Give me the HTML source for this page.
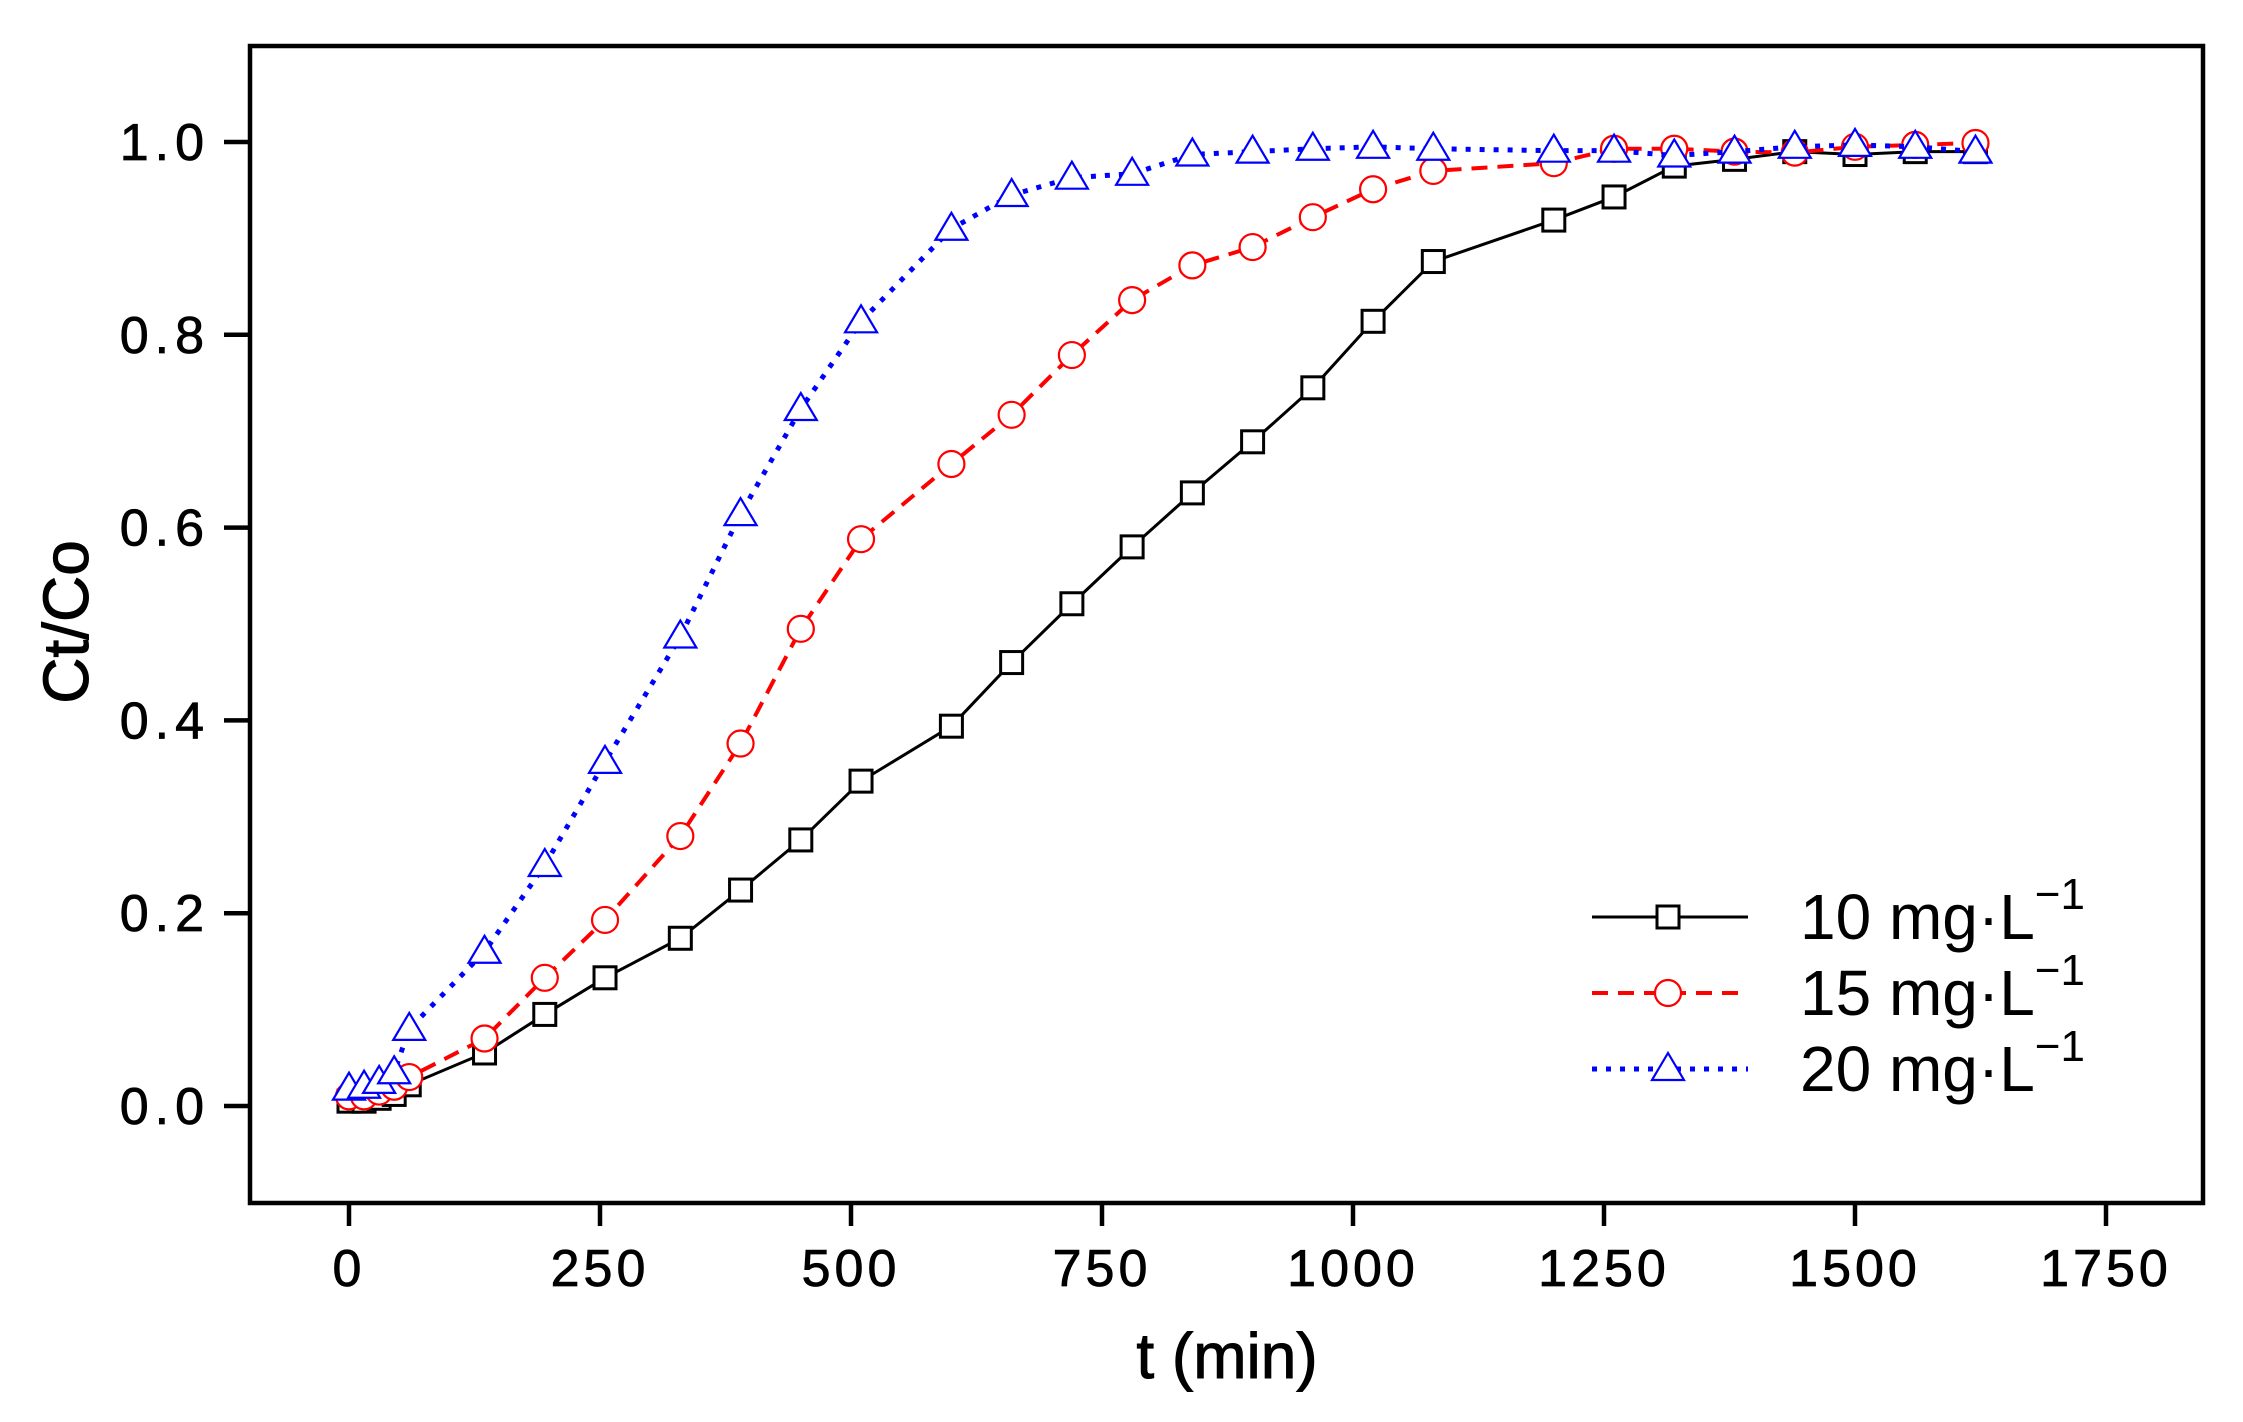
<!DOCTYPE html>
<html><head><meta charset="utf-8"><style>
html,body{margin:0;padding:0;background:#fff;}
svg text{font-family:"Liberation Sans",Arial,sans-serif;}
</style></head><body>
<svg id="chart" width="2243" height="1417" viewBox="0 0 2243 1417" xmlns="http://www.w3.org/2000/svg">
<rect x="250" y="46" width="1953" height="1157" fill="none" stroke="#000" stroke-width="4.5"/>
<g id="axes"></g>
<g id="series"></g>
<g id="legend"></g>
<text x="1227" y="1378" font-size="64" text-anchor="middle" stroke="#000" stroke-width="1">t (min)</text>
<text x="0" y="0" font-size="64" text-anchor="middle" stroke="#000" stroke-width="1" transform="translate(88,622) rotate(-90)">Ct/Co</text>
</svg>
<script>
const times = [0,15,30,45,60,135,195,255,330,390,450,510,600,660,720,780,840,900,960,1020,1080,1200,1260,1320,1380,1440,1500,1560,1620];
const s10 = [0.005,0.005,0.008,0.012,0.022,0.055,0.095,0.133,0.174,0.224,0.276,0.337,0.394,0.46,0.521,0.58,0.636,0.689,0.745,0.814,0.876,0.919,0.943,0.975,0.982,0.99,0.987,0.99,0.99];
const s15 = [0.01,0.01,0.015,0.02,0.03,0.07,0.133,0.193,0.28,0.376,0.495,0.588,0.666,0.717,0.779,0.836,0.872,0.891,0.922,0.951,0.97,0.978,0.993,0.993,0.99,0.989,0.995,0.997,0.999];
const s20 = [0.018,0.02,0.025,0.035,0.08,0.16,0.25,0.357,0.487,0.614,0.723,0.814,0.91,0.945,0.963,0.967,0.987,0.99,0.993,0.995,0.993,0.991,0.991,0.986,0.99,0.995,0.997,0.995,0.99];
const xTicks = [0,250,500,750,1000,1250,1500,1750];
const yTicks = [0.0,0.2,0.4,0.6,0.8,1.0];
const seriesLabels = ["10 mg·L","15 mg·L","20 mg·L"];

const NS="http://www.w3.org/2000/svg";
function X(t){return 349 + t*1.004;}
function Y(v){return 1106 - v*964;}
function mk(tag,attrs,parent){const e=document.createElementNS(NS,tag);for(const k in attrs)e.setAttribute(k,attrs[k]);parent.appendChild(e);return e;}
const axes=document.getElementById('axes');
xTicks.forEach(t=>{
  const l=mk('line',{x1:X(t),x2:X(t),y1:1203,y2:1226,stroke:'#000','stroke-width':4.5},axes);
  
  
  const tx=mk('text',{x:X(t),y:1286,'font-size':52,'text-anchor':'middle','letter-spacing':4,stroke:'#000','stroke-width':0.8},axes);
  tx.textContent=t;
  
  
});
yTicks.forEach(v=>{
  const l=mk('line',{x1:224,x2:250,y1:Y(v),y2:Y(v),stroke:'#000','stroke-width':4.5},axes);
  
  
  const tx=mk('text',{x:210,y:Y(v)+18,'font-size':52,'text-anchor':'end','letter-spacing':6,stroke:'#000','stroke-width':0.8},axes);
  tx.textContent=v.toFixed(1);
  
  
});
const sg=document.getElementById('series');
const defs=[
 {vals:s10,color:'#000',dash:'',w:3,marker:'square',name:'series-10'},
 {vals:s15,color:'#f00',dash:'16 10',w:4,marker:'circle',name:'series-15'},
 {vals:s20,color:'#00f',dash:'5 9',w:5,marker:'triangle',name:'series-20'}];
function marker(type,cx,cy,color,parent){
  let e;
  if(type==='square') e=mk('rect',{x:cx-11,y:cy-11,width:22,height:22,fill:'#fff',stroke:color,'stroke-width':3},parent);
  else if(type==='circle') e=mk('circle',{cx:cx,cy:cy,r:13,fill:'#fff',stroke:color,'stroke-width':2.2},parent);
  else e=mk('polygon',{points:`${cx},${cy-16} ${cx-16},${cy+11} ${cx+16},${cy+11}`,fill:'#fff',stroke:color,'stroke-width':2.2},parent);
  return e;
}
defs.forEach(d=>{
  const g=mk('g',{},sg);
  
  
  const pts=times.map((t,i)=>X(t)+','+Y(d.vals[i])).join(' ');
  const pl=mk('polyline',{points:pts,fill:'none',stroke:d.color,'stroke-width':d.w,'stroke-dasharray':d.dash},g);
  
  
  times.forEach((t,i)=>{
    const m=marker(d.marker,X(t),Y(d.vals[i]),d.color,g);
    
    
  });
});
const lg=document.getElementById('legend');
defs.forEach((d,i)=>{
  const y=917+i*76;
  const l=mk('line',{x1:1592,x2:1748,y1:y,y2:y,stroke:d.color,'stroke-width':d.w,'stroke-dasharray':d.dash},lg);
  
  
  const m=marker(d.marker,1668,y,d.color,lg);
  
  
  const tx=mk('text',{x:1800,y:y+22,'font-size':64},lg);
  tx.textContent=seriesLabels[i];
  
  
  const sup=mk('tspan',{dy:-30,'font-size':44},tx);
  sup.textContent='−1';
});
</script>
</body></html>
